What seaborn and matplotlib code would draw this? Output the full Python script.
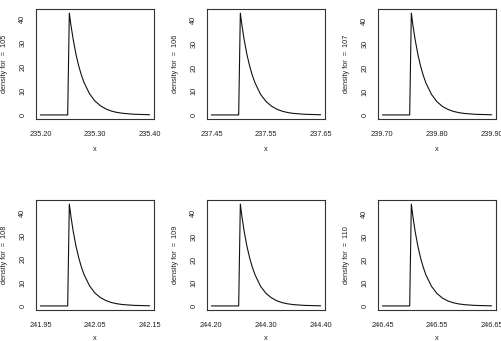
import matplotlib
matplotlib.use("Agg")
from matplotlib import pyplot as plt
import seaborn as sns
import pandas as pd

# panel ids, x-range starts and the point where each density jumps up
panel_ids = [105, 106, 107, 108, 109, 110]
x_starts = [235.20, 237.45, 239.70, 241.95, 244.20, 246.45]
thresholds = [235.25, 237.50, 239.75, 242.00, 244.25, 246.50]

# offsets (past the threshold) at which the curve was read
offsets = [0.003, 0.006, 0.01, 0.015, 0.02, 0.025, 0.03, 0.04, 0.05,
           0.06, 0.07, 0.08, 0.09, 0.10, 0.12, 0.15]

dens_105 = [42.5, 37.4, 31.6, 25.5, 20.6, 16.7, 13.5, 8.8, 5.8, 3.8, 2.5, 1.6, 1.05, 0.7, 0.3, 0.08]
dens_106 = [43.0, 37.8, 31.8, 25.6, 20.7, 16.7, 13.5, 8.7, 5.7, 3.7, 2.4, 1.55, 1.0, 0.65, 0.28, 0.07]
dens_107 = [43.3, 38.0, 32.0, 25.7, 20.7, 16.7, 13.4, 8.7, 5.6, 3.6, 2.35, 1.5, 0.97, 0.63, 0.26, 0.07]
dens_108 = [43.6, 38.2, 32.1, 25.8, 20.8, 16.7, 13.4, 8.6, 5.5, 3.55, 2.3, 1.45, 0.94, 0.6, 0.25, 0.06]
dens_109 = [44.0, 38.5, 32.3, 25.9, 20.8, 16.7, 13.4, 8.5, 5.4, 3.5, 2.2, 1.4, 0.9, 0.57, 0.23, 0.06]
dens_110 = [44.3, 38.7, 32.4, 26.0, 20.8, 16.7, 13.3, 8.5, 5.4, 3.4, 2.15, 1.37, 0.87, 0.55, 0.22, 0.05]
densities = [dens_105, dens_106, dens_107, dens_108, dens_109, dens_110]

y_ticks = [0, 10, 20, 30, 40]

sns.set_style("white")
plt.rcParams["font.family"] = ["Liberation Sans", "DejaVu Sans"]

W, H = 502, 341
fig = plt.figure(figsize=(W / 100, H / 100), dpi=100)

lefts = [36, 207, 378]
tops = [9, 200]
aw, ah = 118, 110
dark = "#333333"
txt = "#222222"

for i, pid in enumerate(panel_ids):
    row, col = divmod(i, 3)
    l, t = lefts[col], tops[row]
    ax = fig.add_axes([l / W, 1 - (t + ah) / H, aw / W, ah / H])

    xs = [x_starts[i], thresholds[i]] + [thresholds[i] + o for o in offsets]
    ys = [0, 0] + densities[i]
    df = pd.DataFrame({"x": xs, "y": ys})
    sns.lineplot(data=df, x="x", y="y", ax=ax, color="#111111", lw=0.8,
                 estimator=None, sort=False)

    x0, x1 = x_starts[i], x_starts[i] + 0.2
    pad = 0.04 * (x1 - x0)
    ax.set_xlim(x0 - pad, x1 + pad)
    ymax = max(ys)
    ax.set_ylim(-0.04 * ymax, 1.04 * ymax)

    xt = [x0 + 0.05 * k for k in range(5)]
    ax.set_xticks(xt)
    ax.set_xticklabels([f"{v:.2f}" if k % 2 == 0 else "" for k, v in enumerate(xt)])
    ax.set_yticks(y_ticks)
    ax.set_yticklabels([str(v) for v in y_ticks], rotation=90, va="center")

    ax.tick_params(axis="both", direction="out", length=4, width=0.7,
                   color=dark, labelsize=5.3, labelcolor=txt)
    ax.tick_params(axis="x", pad=4.5)
    ax.tick_params(axis="y", pad=3)
    for sp in ax.spines.values():
        sp.set_color(dark)
        sp.set_linewidth(0.8)

    ax.set_xlabel("x", fontsize=5.3, color=txt, va="center")
    ax.set_ylabel(f"density for  =  {pid}", fontsize=5.3, color=txt, va="center")
    # bottom row label sits at the figure's lower edge; keep it just inside
    ax.xaxis.set_label_coords(0.5, -0.28 if row == 0 else -0.255)
    ax.yaxis.set_label_coords(-0.263, 0.5)

fig.savefig("out.png", dpi=100)
